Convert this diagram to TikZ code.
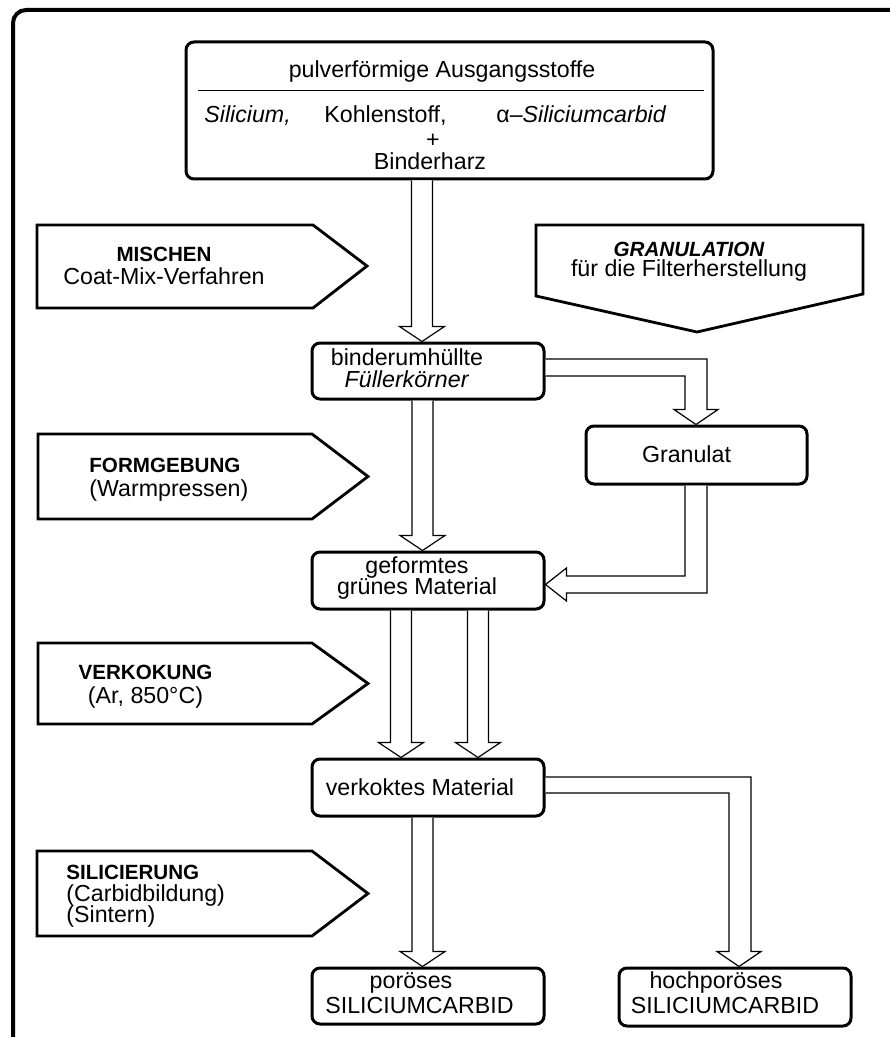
\documentclass[tikz,border=0pt]{standalone}
\usepackage{fontspec}
\setmainfont{Liberation Sans}
\usetikzlibrary{calc}

\newcommand{\stgfont}{\fontsize{10.3}{11}\selectfont\bfseries}
% hollow block arrow straight down: #1 = axis x, #2 = from node, #3 = to node
\newcommand{\hdown}[3]{%
  \draw[hollow] (#1-10.5,0 |- #2.south)
    -- ($(#1-10.5,0 |- #3.north)+(0,-15)$)
    -- ($(#1-22.5,0 |- #3.north)+(0,-15)$)
    -- (#1,0 |- #3.north)
    -- ($(#1+22.5,0 |- #3.north)+(0,-15)$)
    -- ($(#1+10.5,0 |- #3.north)+(0,-15)$)
    -- (#1+10.5,0 |- #2.south);}

\begin{document}
\begin{tikzpicture}[x=0.5pt, y=-0.5pt,
        box/.style={draw, line width=1.5pt, rounded corners=4pt, inner sep=0pt},
        stage/.style={draw, line width=1.4pt, line join=miter},
        hollow/.style={draw, line width=0.6pt, fill=white, line join=miter},
        txt/.style={font=\fontsize{11.6}{11.5}\selectfont, inner sep=0pt, align=center},
    ]
    \useasboundingbox (0,0) rectangle (889,1037);

    % ---- outer frame (open to the right and bottom) ----
    \draw[line width=2pt, rounded corners=6.5pt] (13,1060) |- (920,10);

    % ---- starting materials ----
    \node[box, minimum width=263.5pt, minimum height=68.5pt] (src) at (449.5,110.5) {};
    \draw[line width=0.7pt] ($(src.north west)+(13,50)$) -- ($(src.north east)+(-11,50)$);
    \node[txt, anchor=base] (hdr) at (442,78) {pulverförmige Ausgangsstoffe};
    \node[txt, anchor=base west] (si) at (204,123) {\textit{Silicium,}};
    \node[txt, anchor=base west] (coal) at (324,123) {Kohlenstoff,};
    \node[txt, anchor=base west] (sic) at (496,123) {α–\textit{Siliciumcarbid}};
    \node[txt, anchor=base] (plus) at (433,147.5) {+};
    \node[txt, anchor=base] (resin) at (430,170) {Binderharz};

    % ---- intermediate and final products ----
    \node[box, minimum width=116pt, minimum height=28pt] (bind) at (428,371) {};
    \node[txt] (bindtxt) at (407,368.5) {binderumhüllte\\[-0.5pt]\textit{Füllerkörner}};

    \node[box, minimum width=110.5pt, minimum height=29pt] (gran) at (696.5,455) {};
    \node[txt] (grantxt) at (686.5,454.6) {Granulat};

    \node[box, minimum width=116pt, minimum height=28.5pt] (form) at (428,580.5) {};
    \node[txt] (formtxt) at (417,578) {geformtes\\[-1pt]grünes Material};

    \node[box, minimum width=116pt, minimum height=28.5pt] (verk) at (428,787.5) {};
    \node[txt] (verktxt) at (420,787.5) {verkoktes Material};

    \node[box, minimum width=116pt, minimum height=28pt] (por) at (428,996) {};
    \node[txt] (portxt) at (419.5,993) {\hspace*{-8.5pt}poröses\\[1pt]SILICIUMCARBID};

    \node[box, minimum width=116pt, minimum height=29pt] (hoch) at (735,997) {};
    \node[txt] (hochtxt) at (725,993) {\hspace*{-9pt}hochporöses\\[1pt]SILICIUMCARBID};

    % ---- process steps ----
    \draw[stage] (37,225) -- (313,225) -- (367,266) -- (313,308) -- (37,308) -- cycle;
    \node[txt] (mixtxt) at (164,266.2) {{\stgfont MISCHEN}\\Coat-Mix-Verfahren};

    \draw[stage] (536,225) -- (863,225) -- (863,294) -- (697,332) -- (536,296) -- cycle;
    \node[txt] (grantl) at (689,262) {{\stgfont\itshape GRANULATION}\\[-1.5pt]für die Filterherstellung};

    \draw[stage] (38,434) -- (312,434) -- (368,476.5) -- (312,519) -- (38,519) -- cycle;
    \node[txt, align=left, anchor=west] (formtl) at (89,479.6) {{\stgfont FORMGEBUNG}\\[0.5pt](Warmpressen)};

    \draw[stage] (38,643) -- (312,643) -- (368,683.5) -- (312,724) -- (38,724) -- cycle;
    \node[txt] (verktl) at (145.5,686.5) {{\stgfont VERKOKUNG}\\[0.5pt](Ar, 850°C)};

    \draw[stage] (37,851) -- (312,851) -- (368,893.5) -- (312,936) -- (37,936) -- cycle;
    \node[txt, align=left, anchor=west] (siltl) at (66,896.6) {{\stgfont SILICIERUNG}\\[-0.75pt](Carbidbildung)\\[-0.75pt](Sintern)};

    % ---- straight block arrows ----
    \hdown{422}{src}{bind}
    \hdown{422.5}{bind}{form}
    \hdown{401}{form}{verk}
    \hdown{478}{form}{verk}
    \hdown{422.5}{verk}{por}

    % ---- bent block arrows ----
    \draw[hollow] (bind.east |- 0,359) -- (707,359)
        -- ($(707,0 |- gran.north)+(0,-15)$) -- ($(718,0 |- gran.north)+(0,-15)$)
        -- (696,0 |- gran.north)
        -- ($(674,0 |- gran.north)+(0,-15)$) -- ($(685,0 |- gran.north)+(0,-15)$)
        -- (685,376) -- (bind.east |- 0,376);

    \draw[hollow] (685,0 |- gran.south) -- (685,576)
        -- ($(form.east |- 0,576)+(21,0)$) -- ($(form.east |- 0,568)+(21,0)$)
        -- (form.east |- 0,584.5)
        -- ($(form.east |- 0,601)+(21,0)$) -- ($(form.east |- 0,593)+(21,0)$)
        -- (707,593) -- (707,0 |- gran.south);

    \draw[hollow] (verk.east |- 0,777) -- (751,777)
        -- ($(751,0 |- hoch.north)+(0,-15)$) -- ($(761,0 |- hoch.north)+(0,-15)$)
        -- (739,0 |- hoch.north)
        -- ($(717,0 |- hoch.north)+(0,-15)$) -- ($(729,0 |- hoch.north)+(0,-15)$)
        -- (729,793) -- (verk.east |- 0,793);
\end{tikzpicture}
\end{document}
